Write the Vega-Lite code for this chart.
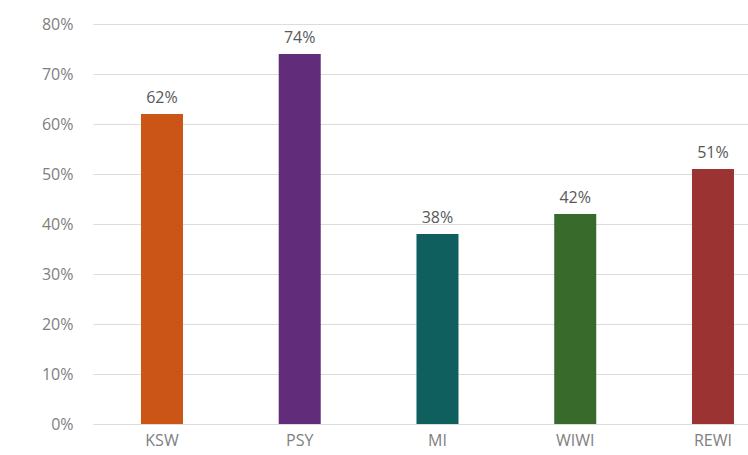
{
  "$schema": "https://vega.github.io/schema/vega-lite/v6.json",
  "width": 655,
  "height": 400,
  "autosize": {"type": "none"},
  "padding": {"left": 93, "top": 24, "right": 0, "bottom": 31},
  "background": "white",
  "config": {"view": {"stroke": null}, "font": "Open Sans"},
  "data": {"values": [
    {"fach": "KSW", "wert": 0.62, "farbe": "#CB5516"},
    {"fach": "PSY", "wert": 0.74, "farbe": "#612D7A"},
    {"fach": "MI", "wert": 0.38, "farbe": "#0F5F5F"},
    {"fach": "WIWI", "wert": 0.42, "farbe": "#376A2B"},
    {"fach": "REWI", "wert": 0.51, "farbe": "#9B3333"}
  ]},
  "encoding": {
    "x": {"field": "fach", "type": "nominal", "sort": null,
      "scale": {"paddingInner": 0.695, "paddingOuter": 0.225, "align": 0.774},
      "axis": {"title": null, "labelAngle": 0, "ticks": false, "domain": false, "labelFontSize": 16, "labelColor": "#808080", "labelPadding": 8, "labelFont": "Open Sans"}},
    "y": {"field": "wert", "type": "quantitative",
      "scale": {"domain": [0, 0.8], "nice": false},
      "axis": {"title": null, "format": ".0%", "values": [0,0.1,0.2,0.3,0.4,0.5,0.6,0.7,0.8], "labelOverlap": false, "ticks": false, "domain": false, "labelFontSize": 16, "labelColor": "#808080", "labelPadding": 20, "gridColor": "#dcdcdc", "gridWidth": 1, "labelFont": "Open Sans"}}
  },
  "layer": [
    {"mark": {"type": "bar"}, "encoding": {"color": {"field": "farbe", "type": "nominal", "scale": null}}},
    {"mark": {"type": "text", "baseline": "bottom", "dy": -8, "fontSize": 16, "color": "#595959", "font": "Open Sans"},
      "encoding": {"text": {"field": "wert", "type": "quantitative", "format": ".0%"}}}
  ]
}
